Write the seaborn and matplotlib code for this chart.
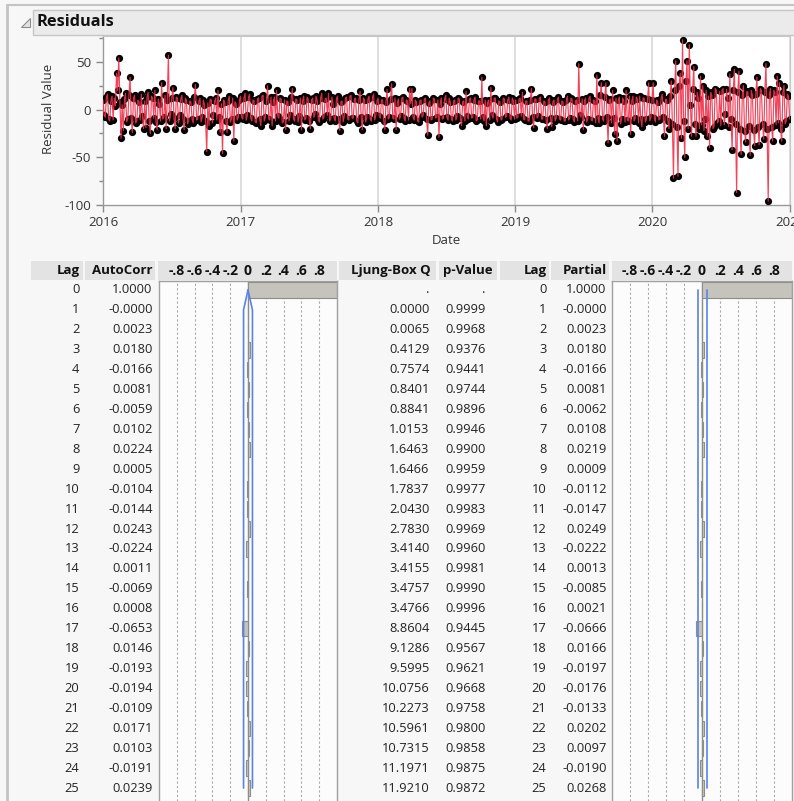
import matplotlib
matplotlib.use("Agg")

import matplotlib.pyplot as plt
import matplotlib.transforms as mtransforms
from matplotlib.patches import Polygon, Rectangle
import numpy as np
import pandas as pd
import seaborn as sns


# residual values (about one point every three days)
resid_2016 = [10, -6, -8, 13, 16, -10, -12, 9, 14, -11, 12, 4, 38, 20, 54, 8, -30, 5, -22, 11,
              17, -13, -10, 15, 34, -9, -24, 12, 15, -14, -12, 10, 8, -11, 16, -7, -20, 9, -19, 13,
              18, -12, -25, 14, 12, -9, 20, -13, -21, 11, 6, -12, 28, -10, -8, 15, -20, 10, 57, -12,
              -5, 12, 23, -9, -20, 13, 12, -14, -6, 11, 15, -10, -21, 12, 10, -15, -12, 9, 8, -10,
              -14, 13, 26, -11, -10, 9, 12, -13, -8, 10, 5, -12, -44, 7, -17, 11, 10, -14, -6, 9,
              12, -11, 20, -8, -24, 6, -46, 10, 8, -12, -24, 9, 14, -13, -10, 12, -33, 8, 6, -11,
              -8, 10]
resid_2017 = [14, -8, -10, 12, 17, -11, -6, 13, 16, -9, -12, 10, 9, -13, -14, 11, 12, -10, -17, 14,
              15, -12, -8, 9, 25, -10, -11, 13, -17, 8, 13, -12, 20, -7, -9, 12, 11, -14, -13, 10,
              -21, 9, 8, -12, -6, 13, 22, -10, -12, 11, 10, -13, -7, 12, -21, 9, 14, -11, -9, 13,
              11, -12, -20, 10, 12, -8, -5, 14, 9, -11, -13, 12, 17, -10, -8, 11, 12, -6, 17, -12,
              -10, 13, 6, -9, -12, 11, 14, -10, -22, 8, 9, -13, -7, 12, 13, -10, -11, 14, 15, -9,
              -9, 11, 12, -12, -14, 10, 19, -8, -21, 12, 10, -13, -8, 11, 14, -10, -12, 13, 16, -11,
              -6, 9]
resid_2018 = [12, -7, -9, 10, 10, -12, -21, 8, 21, -10, -8, 11, 27, -9, -10, 12, -21, 7, 11, -10,
              -7, 12, 13, -9, -12, 10, 9, -11, 22, 6, 22, -8, -11, 10, 8, -12, -13, 9, 10, -8,
              -6, 11, 12, -10, -27, 7, 9, -11, -10, 12, 11, -9, -8, 10, -29, 6, 12, -10, -9, 11,
              15, -8, -11, 12, 8, -10, -12, 9, 10, -11, -7, 12, 11, -9, -17, 8, 9, -12, 19, -7,
              -10, 11, 12, -9, -8, 10, 13, -12, -11, 9, 9, -10, 34, -8, -12, 10, -17, 7, 10, -11,
              23, -6, -9, 12, 12, -10, -13, 9, 8, -11, -10, 12, 11, -8, -7, 10, 13, -9, -11, 12,
              9, -10]
resid_2019 = [10, -9, -8, 11, 12, -7, 18, -10, -11, 9, 9, -12, -12, 10, 22, -8, -19, 11, 11, -9,
              -7, 12, 13, -10, -10, 9, 8, -11, -20, 10, 12, -9, -18, 8, 10, -12, -9, 11, 13, -10,
              -11, 9, 8, -12, -12, 10, 14, -11, -9, 12, 11, -10, -13, 9, 10, -12, 48, -6, -8, 11,
              -21, 9, 12, -13, -10, 12, 14, -11, -12, 10, 9, -14, 36, -9, -14, 15, 28, -10, -12, 13,
              28, -8, -35, 10, 11, -14, 20, -9, -26, 12, -33, 10, 13, -15, -10, 12, 9, -13, 20, -11,
              -12, 14, -26, 9, 14, -12, -9, 13, 11, -14, 14, -10, -18, 12, 12, -13, -10, 11, 28, -12,
              -8, 10]
resid_2020 = [28, -9, -13, 10, 8, -11, -10, 12, 16, -8, -28, 11, 10, -12, -20, 14, 30, -15, -72, 20,
              51, -18, -70, 25, 38, -30, 73, -12, -50, 30, 51, -20, 68, 5, -28, 22, 45, -15, -28, 18,
              12, -20, 35, -16, 25, -22, -10, 20, -28, 14, -40, 18, 15, -20, -18, 22, 20, -14, -12, 19,
              -17, 20, 22, -16, -5, 21, 12, -18, 37, -10, -42, 20, 42, -15, -87, 18, 40, -20, -47, 15,
              25, -22, -34, 19, 18, -17, -48, 20, 15, -21, -38, 16, 34, -18, -37, 22, 20, -15, -31, 18,
              48, -20, -96, 15, 22, -18, -33, 20, 18, -16, 35, -14, 28, -20, -33, 18, 25, -15, -12, 16,
              14, -10]

year_labels = ["2016", "2017", "2018", "2019", "2020", "2021"]

# time series diagnostics table
lags = list(range(26))
autocorr = [1.0000, -0.00002, 0.0023, 0.0180, -0.0166, 0.0081, -0.0059,
            0.0102, 0.0224, 0.0005, -0.0104, -0.0144, 0.0243, -0.0224,
            0.0011, -0.0069, 0.0008, -0.0653, 0.0146, -0.0193, -0.0194,
            -0.0109, 0.0171, 0.0103, -0.0191, 0.0239]
ljung_q = [np.nan, 0.0000, 0.0065, 0.4129, 0.7574, 0.8401, 0.8841, 1.0153,
           1.6463, 1.6466, 1.7837, 2.0430, 2.7830, 3.4140, 3.4155, 3.4757,
           3.4766, 8.8604, 9.1286, 9.5995, 10.0756, 10.2273, 10.5961,
           10.7315, 11.1971, 11.9210]
p_value = [np.nan, 0.9999, 0.9968, 0.9376, 0.9441, 0.9744, 0.9896, 0.9946,
           0.9900, 0.9959, 0.9977, 0.9983, 0.9969, 0.9960, 0.9981, 0.9990,
           0.9996, 0.9445, 0.9567, 0.9621, 0.9668, 0.9758, 0.9800, 0.9858,
           0.9875, 0.9872]
partial = [1.0000, -0.00002, 0.0023, 0.0180, -0.0166, 0.0081, -0.0062,
           0.0108, 0.0219, 0.0009, -0.0112, -0.0147, 0.0249, -0.0222,
           0.0013, -0.0085, 0.0021, -0.0666, 0.0166, -0.0197, -0.0176,
           -0.0133, 0.0202, 0.0097, -0.0190, 0.0268]
acf_limit = [0.0, 0.05, 0.05, 0.05, 0.05, 0.05, 0.05, 0.05, 0.05, 0.05,
             0.05, 0.05, 0.05, 0.05, 0.05, 0.05, 0.05, 0.05, 0.05, 0.05,
             0.05, 0.05, 0.05, 0.05, 0.05, 0.05]
pacf_limit = [0.05] * 26

bar_ticks = [-0.8, -0.6, -0.4, -0.2, 0, 0.2, 0.4, 0.6, 0.8]
bar_tick_labels = ["-.8", "-.6", "-.4", "-.2", "0", ".2", ".4", ".6", ".8"]


W, H = 794, 801
BG = "#f7f7f7"
TXT = "#222222"
RED = "#f0304a"
BLUE = "#5c82e6"
BAR_FILL = "#c4c4bc"
BAR_EDGE = "#8e8e88"


def px_rect(x0, y0, x1, y1):
    return [x0 / W, 1 - y1 / H, (x1 - x0) / W, (y1 - y0) / H]


def fmt(v):
    if np.isnan(v):
        return "."
    return f"{v:.4f}"


sns.set_theme(style="ticks")
plt.rcParams["font.family"] = ["Open Sans", "DejaVu Sans"]
plt.rcParams["axes.unicode_minus"] = False

residuals = resid_2016 + resid_2017 + resid_2018 + resid_2019 + resid_2020
dates = pd.date_range("2016-01-01", "2020-12-31", periods=len(residuals))
year_ticks = pd.to_datetime([f"{y}-01-01" for y in year_labels])

fig = plt.figure(figsize=(W / 100, H / 100), dpi=100, facecolor=BG)

# background layer in pixel coordinates
ax_bg = fig.add_axes([0, 0, 1, 1], zorder=0)
ax_bg.set_xlim(0, W)
ax_bg.set_ylim(H, 0)
ax_bg.axis("off")

ax_bg.plot([7, W], [5, 5], color="#c4c4c4", lw=1.5)
ax_bg.plot([7, 7], [5, H], color="#c4c4c4", lw=2)
ax_bg.add_patch(Rectangle((33, 10), W, 25, facecolor="#ebebeb",
                          edgecolor="#c6c6c6", lw=1))
ax_bg.add_patch(Polygon([(21, 27), (30, 27), (30, 18)], closed=True,
                        facecolor="#e2e2e2", edgecolor="#8a8a8a", lw=0.8))
ax_bg.text(36, 22.5, "Residuals", fontsize=11.8, fontweight="bold",
           color="#111111", ha="left", va="center")

# residual time series
ax_ts = fig.add_axes(px_rect(103, 36, 790, 205), zorder=2)
ax_ts.set_facecolor("white")

sns.scatterplot(x=dates, y=residuals, ax=ax_ts, color="black", s=27,
                linewidth=0, zorder=3)
sns.lineplot(x=dates, y=residuals, ax=ax_ts, color=RED, lw=0.85,
             alpha=0.9, zorder=4)

ax_ts.set_xlim(year_ticks[0], year_ticks[-1])
ax_ts.set_ylim(-100, 77)
ax_ts.set_xticks(year_ticks)
ax_ts.set_xticklabels(year_labels)
ax_ts.set_yticks([-100, -50, 0, 50])
ax_ts.set_yticks([-75, -25, 25, 75], minor=True)
ax_ts.grid(axis="x", color="#d9d9d9", lw=1.2)
ax_ts.tick_params(which="major", length=5, width=1, color="#8a8a8a",
                  labelsize=9.5, labelcolor="#333333")
ax_ts.tick_params(which="minor", length=3, width=1, color="#8a8a8a")
ax_ts.tick_params(axis="x", pad=3)
for side in ["top", "right"]:
    ax_ts.spines[side].set_color("#c8c8c8")
    ax_ts.spines[side].set_linewidth(0.8)
for side in ["left", "bottom"]:
    ax_ts.spines[side].set_color("#9a9a9a")
    ax_ts.spines[side].set_linewidth(1)

ax_ts.set_xlabel("Date", fontsize=9.5, color="#333333")
ax_ts.xaxis.set_label_coords(0.5, -(241 - 205) / 169)
ax_ts.xaxis.label.set_va("center")
ax_ts.set_ylabel("Residual Value", fontsize=9.5, color="#333333")
ax_ts.yaxis.set_label_coords((48 - 103) / 687, (205 - 109) / 169)
ax_ts.yaxis.label.set_va("center")


def bar_panel(rect, values, limit):
    ax = fig.add_axes(px_rect(*rect), zorder=2)
    ax.set_facecolor("#fcfcfc")

    for v in bar_ticks:
        if v != 0:
            ax.axvline(v, color="#a9a9a9", lw=0.8, ls=(0, (2, 2)), zorder=1)
    ax.axvline(0, color="#8c8c8c", lw=1, zorder=1)

    sns.barplot(x=values, y=[str(k) for k in lags], orient="h", ax=ax,
                color=BAR_FILL, edgecolor=BAR_EDGE, linewidth=0.8,
                width=0.78, saturation=1, zorder=2)

    ax.plot(limit, lags, color=BLUE, lw=1.2, zorder=3)
    ax.plot([-v for v in limit], lags, color=BLUE, lw=1.2, zorder=3)

    ax.set_xlim(-1, 1)
    ax.set_ylim(25.65, -0.45)
    ax.set_yticks([])
    ax.set_xlabel("")
    ax.set_ylabel("")
    ax.xaxis.tick_top()
    ax.set_xticks(bar_ticks)
    ax.set_xticklabels(bar_tick_labels, fontweight="bold")
    ax.tick_params(axis="x", length=0, pad=2.5, labelsize=10,
                   labelcolor="#111111")
    for side in ["top", "left", "right"]:
        ax.spines[side].set_color("#a0a0a0")
        ax.spines[side].set_linewidth(1)
    ax.spines["bottom"].set_visible(False)
    return ax


ax_acf = bar_panel((159, 281, 337, 801), autocorr, acf_limit)
ax_pacf = bar_panel((612, 281, 792, 801), partial, pacf_limit)

# header cells
cells = [(31, 83), (85, 155), (158, 337), (339, 436), (439, 497),
         (500, 549), (551, 609), (612, 792)]
for x0, x1 in cells:
    ax_bg.add_patch(Rectangle((x0, 261), x1 - x0, 19, facecolor="#e3e3e3",
                              edgecolor="none"))

headers = [(79.5, "Lag"), (153, "AutoCorr"), (431, "Ljung-Box Q"),
           (492.5, "p-Value"), (546.5, "Lag"), (606.5, "Partial")]
for x, label in headers:
    ax_bg.text(x, 270.5, label, fontsize=9.5, fontweight="bold",
               color="#111111", ha="right", va="center")

# table rows share the bar panels' row positions
row = mtransforms.blended_transform_factory(ax_bg.transData, ax_acf.transData)
columns = [
    (79.5, [str(k) for k in lags]),
    (152.7, [fmt(v) for v in autocorr]),
    (429.5, [fmt(v) for v in ljung_q]),
    (485.5, [fmt(v) for v in p_value]),
    (546.5, [str(k) for k in lags]),
    (606.7, [fmt(v) for v in partial]),
]
for x, texts in columns:
    for k, t in zip(lags, texts):
        ax_bg.text(x, k, t, transform=row, fontsize=9.3, color=TXT,
                   ha="right", va="center")

fig.savefig("out.png", dpi=100, facecolor=BG)
